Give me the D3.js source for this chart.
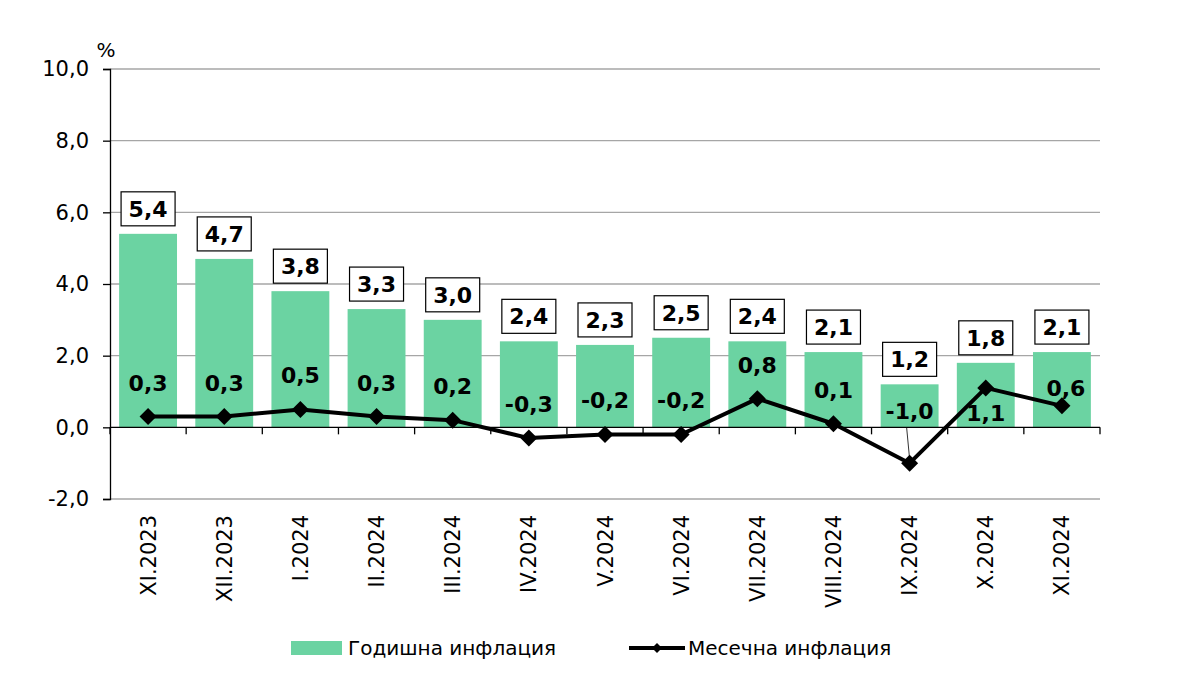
<!DOCTYPE html>
<html>
<head>
<meta charset="utf-8">
<script src="https://cdn.jsdelivr.net/npm/d3@7"></script>
<style>
  body { margin: 0; background: #fff; }
  svg { font-family: "DejaVu Sans", Verdana, sans-serif; }
</style>
</head>
<body>
<div id="chart"></div>
<script>
// data
const months = ["XI.2023", "XII.2023", "I.2024", "II.2024", "III.2024", "IV.2024", "V.2024",
  "VI.2024", "VII.2024", "VIII.2024", "IX.2024", "X.2024", "XI.2024"];
const annual = [5.4, 4.7, 3.8, 3.3, 3.0, 2.4, 2.3, 2.5, 2.4, 2.1, 1.2, 1.8, 2.1];
const monthly = [0.3, 0.3, 0.5, 0.3, 0.2, -0.3, -0.2, -0.2, 0.8, 0.1, -1.0, 1.1, 0.6];
const yTicks = [-2, 0, 2, 4, 6, 8, 10];
const seriesNames = ["Годишна инфлация", "Месечна инфлация"];

const width = 1183, height = 676;
const barColor = "#6bd3a2";
// comma decimals, plain hyphen for negatives
const fmt = v => d3.format(".1f")(v).replace(".", ",").replace("\u2212", "-");

const svg = d3.select("#chart").append("svg")
  .attr("width", width)
  .attr("height", height);

const x = d3.scaleBand()
  .domain(months)
  .range([110, 1100])
  .paddingInner(0.24)
  .paddingOuter(0.12);

const y = d3.scaleLinear()
  .domain([-2, 10])
  .range([499, 69]);

const cx = d => x(d) + x.bandwidth() / 2;

// gridlines
svg.append("g")
  .selectAll("line")
  .data(yTicks.filter(t => t !== 0))
  .enter()
  .append("line")
  .attr("x1", 110)
  .attr("x2", 1100)
  .attr("y1", d => y(d))
  .attr("y2", d => y(d))
  .attr("stroke", "#a6a6a6")
  .attr("stroke-width", 1.3);

// y axis
const yAxis = svg.append("g")
  .attr("transform", "translate(110,0)")
  .call(d3.axisLeft(y).tickValues(yTicks).tickSize(7).tickPadding(14).tickFormat(fmt));
yAxis.select(".domain").attr("stroke", "#000").attr("stroke-width", 1.3);
yAxis.selectAll(".tick line").attr("stroke", "#000").attr("stroke-width", 1.3);
yAxis.selectAll(".tick text")
  .attr("font-size", 21)
  .attr("fill", "#000")
  .attr("font-family", "DejaVu Sans, Verdana, sans-serif");

svg.append("text")
  .attr("x", 106)
  .attr("y", 57)
  .attr("text-anchor", "middle")
  .attr("font-size", 20)
  .text("%");

// bars
svg.append("g")
  .selectAll("rect")
  .data(months)
  .enter()
  .append("rect")
  .attr("x", d => x(d))
  .attr("width", x.bandwidth())
  .attr("y", (d, i) => y(annual[i]))
  .attr("height", (d, i) => y(0) - y(annual[i]))
  .attr("fill", barColor);

// x axis at zero
svg.append("line")
  .attr("x1", 110)
  .attr("x2", 1100)
  .attr("y1", y(0))
  .attr("y2", y(0))
  .attr("stroke", "#000")
  .attr("stroke-width", 1.3);

svg.append("g")
  .selectAll("line")
  .data(d3.range(months.length + 1))
  .enter()
  .append("line")
  .attr("x1", i => 110 + i * x.step())
  .attr("x2", i => 110 + i * x.step())
  .attr("y1", y(0))
  .attr("y2", y(0) + 7)
  .attr("stroke", "#000")
  .attr("stroke-width", 1.3);

// x labels, rotated
svg.append("g")
  .selectAll("text")
  .data(months)
  .enter()
  .append("text")
  .attr("transform", d => "translate(" + cx(d) + ",515) rotate(-90)")
  .attr("text-anchor", "end")
  .attr("dy", "0.36em")
  .attr("font-size", 21)
  .text(d => d);

// annual labels in boxes
const boxW = 54, boxH = 34;
const boxes = svg.append("g")
  .selectAll("g")
  .data(months)
  .enter()
  .append("g")
  .attr("transform", (d, i) => "translate(" + cx(d) + "," + (y(annual[i]) - 8 - boxH / 2) + ")");

boxes.append("rect")
  .attr("x", -boxW / 2)
  .attr("y", -boxH / 2)
  .attr("width", boxW)
  .attr("height", boxH)
  .attr("fill", "#fff")
  .attr("stroke", "#000")
  .attr("stroke-width", 1.2);

boxes.append("text")
  .attr("text-anchor", "middle")
  .attr("dy", "0.36em")
  .attr("font-size", 22)
  .attr("font-weight", "bold")
  .text((d, i) => fmt(annual[i]));

// monthly line
const line = d3.line()
  .x(d => cx(d))
  .y((d, i) => y(monthly[i]));

svg.append("path")
  .datum(months)
  .attr("d", line)
  .attr("fill", "none")
  .attr("stroke", "#000")
  .attr("stroke-width", 4)
  .attr("stroke-linejoin", "round");

const diamond = r => "M0," + (-r) + "L" + r + ",0L0," + r + "L" + (-r) + ",0Z";

svg.append("g")
  .selectAll("path")
  .data(months)
  .enter()
  .append("path")
  .attr("transform", (d, i) => "translate(" + cx(d) + "," + y(monthly[i]) + ")")
  .attr("d", diamond(8.5))
  .attr("fill", "#000");

// monthly labels: mostly above the point, a few moved to avoid the line
function labelOffset(i) {
  if (months[i] === "IX.2024") return -52;
  if (months[i] === "X.2024") return 25;
  if (months[i] === "XI.2024") return -18;
  return -34;
}

const ix = months.indexOf("IX.2024");
svg.append("line")
  .attr("x1", cx(months[ix]) - 3)
  .attr("x2", cx(months[ix]))
  .attr("y1", y(0))
  .attr("y2", y(monthly[ix]) - 4)
  .attr("stroke", "#000")
  .attr("stroke-width", 0.8);

svg.append("g")
  .selectAll("text")
  .data(months)
  .enter()
  .append("text")
  .attr("x", (d, i) => cx(d) + (months[i] === "XI.2024" ? 4 : 0))
  .attr("y", (d, i) => y(monthly[i]) + labelOffset(i))
  .attr("text-anchor", "middle")
  .attr("dy", "0.36em")
  .attr("font-size", 22)
  .attr("font-weight", "bold")
  .text((d, i) => fmt(monthly[i]));

// legend
const legend = svg.append("g");
legend.append("rect")
  .attr("x", 291)
  .attr("y", 641)
  .attr("width", 51)
  .attr("height", 14)
  .attr("fill", barColor);
legend.append("text")
  .attr("x", 348)
  .attr("y", 648)
  .attr("dy", "0.36em")
  .attr("font-size", 20)
  .text(seriesNames[0]);
legend.append("line")
  .attr("x1", 629)
  .attr("x2", 685)
  .attr("y1", 648)
  .attr("y2", 648)
  .attr("stroke", "#000")
  .attr("stroke-width", 4);
legend.append("path")
  .attr("transform", "translate(657,648)")
  .attr("d", diamond(5))
  .attr("fill", "#000");
legend.append("text")
  .attr("x", 688)
  .attr("y", 648)
  .attr("dy", "0.36em")
  .attr("font-size", 20)
  .text(seriesNames[1]);
</script>
</body>
</html>
